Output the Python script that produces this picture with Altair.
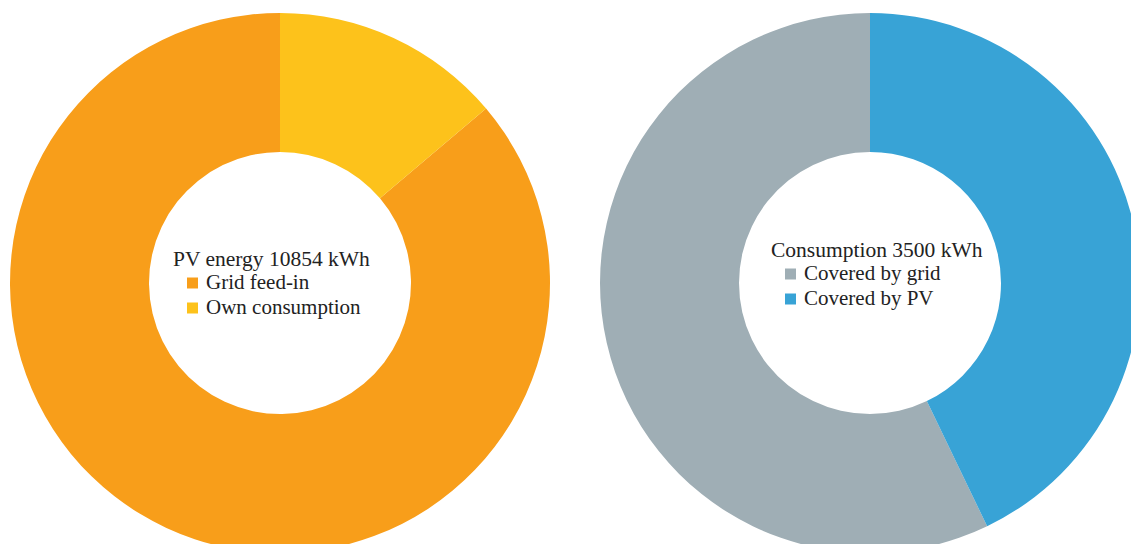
import altair as alt
import pandas as pd

# ---- data ----
pv_title = "PV energy 10854 kWh"
pv_categories = ["Grid feed-in", "Own consumption"]
pv_values = [9354, 1500]
pv_stack_order = [2, 1]
pv_colors = ["#F89E1A", "#FDC21B"]

cons_title = "Consumption 3500 kWh"
cons_categories = ["Covered by grid", "Covered by PV"]
cons_values = [2000, 1500]
cons_stack_order = [2, 1]
cons_colors = ["#9FAEB5", "#38A3D6"]

pv_df = pd.DataFrame({"category": pv_categories, "kwh": pv_values, "order": pv_stack_order})
cons_df = pd.DataFrame({"category": cons_categories, "kwh": cons_values, "order": cons_stack_order})

FONT = "Liberation Serif"


def donut(df, cats, colors, title, cx, cy, lx, ly):
    return alt.Chart(df).mark_arc(outerRadius=270, innerRadius=131).encode(
        theta=alt.Theta("kwh:Q", stack=True),
        order=alt.Order("order:Q"),
        color=alt.Color(
            "category:N",
            scale=alt.Scale(domain=cats, range=colors),
            legend=alt.Legend(
                title=title,
                orient="none",
                legendX=lx,
                legendY=ly,
                symbolType="square",
                symbolSize=121,
                symbolStrokeWidth=0,
                symbolOffset=9,
                labelOffset=3,
                labelFont=FONT,
                labelFontSize=21,
                labelColor="#222222",
                labelLimit=400,
                titleFont=FONT,
                titleFontSize=21.5,
                titleFontWeight="normal",
                titleColor="#222222",
                titleLimit=400,
                titlePadding=2,
                rowPadding=3,
                padding=0,
            ),
        ),
        x=alt.value(cx),
        y=alt.value(cy),
    )


left = donut(pv_df, pv_categories, pv_colors, pv_title, 280, 283, 173, 249)
right = donut(cons_df, cons_categories, cons_colors, cons_title, 870, 283, 771, 240)

chart = alt.layer(left, right).resolve_scale(
    theta="independent", color="independent"
).properties(
    width=1131, height=544, padding=0, autosize="none"
).configure_view(stroke=None)

chart.save("out.html", embed_options={"renderer": "svg", "actions": False})
